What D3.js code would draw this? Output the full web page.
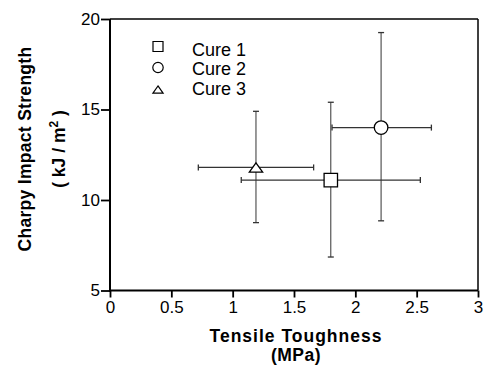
<!DOCTYPE html>
<html>
<head>
<meta charset="utf-8">
<script src="https://cdn.jsdelivr.net/npm/d3@7"></script>
<style>
  body { margin: 0; background: #fff; }
  text { font-family: "Liberation Sans", Arial, sans-serif; fill: #000; }
</style>
</head>
<body>
<svg id="chart" width="484" height="385"></svg>
<script>
'use strict';

// series: x = tensile toughness, y = impact strength
const cures = ['Cure 1', 'Cure 2', 'Cure 3'];
const symbols = ['square', 'circle', 'triangle'];
const xMean = [1.80, 2.21, 1.19];
const xLow = [1.07, 1.81, 0.72];
const xHigh = [2.53, 2.62, 1.66];
const yMean = [11.1, 14.0, 11.8];
const yLow = [6.85, 8.85, 8.75];
const yHigh = [15.4, 19.25, 14.9];

const xTicks = [0, 0.5, 1, 1.5, 2, 2.5, 3];
const yTicks = [5, 10, 15, 20];

const data = cures.map((c, i) => ({
  name: c, sym: symbols[i],
  x: xMean[i], x0: xLow[i], x1: xHigh[i],
  y: yMean[i], y0: yLow[i], y1: yHigh[i],
}));

// plot box
const L = 110, R = 478, T = 19, B = 290.5;
const svg = d3.select('#chart');

const x = d3.scaleLinear().domain([0, 3]).range([L, R]);
const y = d3.scaleLinear().domain([5, 20]).range([B, T]);

// frame: top and right thinner
svg.append('line').attr('x1', L).attr('x2', R).attr('y1', T).attr('y2', T)
  .attr('stroke', '#000').attr('stroke-width', 1.5);
svg.append('line').attr('x1', R).attr('x2', R).attr('y1', T).attr('y2', B)
  .attr('stroke', '#000').attr('stroke-width', 1.5);

// x axis, ticks pointing down
const gx = svg.append('g').attr('transform', `translate(0,${B})`)
  .call(d3.axisBottom(x).tickValues(xTicks).tickSize(7).tickPadding(3)
    .tickFormat(d3.format('')));
gx.selectAll('.tick line').attr('stroke-width', 1.8);
gx.selectAll('.tick text').style('font-size', '17px')
  .style('font-family', '"Liberation Sans", Arial, sans-serif');

// y axis, ticks pointing left
const gy = svg.append('g').attr('transform', `translate(${L},0)`)
  .call(d3.axisLeft(y).tickValues(yTicks).tickSize(9).tickPadding(1));
gy.selectAll('.tick line').attr('stroke-width', 1.8);
gy.selectAll('.tick text').style('font-size', '17px')
  .style('font-family', '"Liberation Sans", Arial, sans-serif');
svg.selectAll('.domain').remove();
gx.append('line').attr('x1', L - 1).attr('x2', R).attr('stroke', '#000').attr('stroke-width', 2);
gy.append('line').attr('y1', T).attr('y2', B + 1).attr('stroke', '#000').attr('stroke-width', 2);

// error bars
const cap = 3;
const eb = svg.append('g').attr('stroke', '#333').attr('stroke-width', 1).attr('fill', 'none');
data.forEach(d => {
  const cx = x(d.x), cy = y(d.y);
  eb.append('line').attr('x1', x(d.x0)).attr('x2', x(d.x1)).attr('y1', cy).attr('y2', cy)
    .attr('stroke-width', 1.3);
  eb.append('line').attr('x1', cx).attr('x2', cx).attr('y1', y(d.y0)).attr('y2', y(d.y1));
  [d.x0, d.x1].forEach(v => eb.append('line').attr('x1', x(v)).attr('x2', x(v))
    .attr('y1', cy - cap).attr('y2', cy + cap).attr('stroke-width', 1.3));
  [d.y0, d.y1].forEach(v => eb.append('line').attr('y1', y(v)).attr('y2', y(v))
    .attr('x1', cx - cap).attr('x2', cx + cap).attr('stroke-width', 1.3));
});

// flat triangle, wider than tall like the original
const flatTriangle = {
  draw(ctx, size) {
    const w = Math.sqrt(size * 2 / 0.7);
    const h = w * 0.7;
    ctx.moveTo(0, -h / 2);
    ctx.lineTo(w / 2, h / 2);
    ctx.lineTo(-w / 2, h / 2);
    ctx.closePath();
  },
};

// markers
const shape = { square: d3.symbolSquare, circle: d3.symbolCircle, triangle: flatTriangle };
const size = { square: 180, circle: 145, triangle: 62 };
svg.selectAll('path.pt')
  .data(data)
  .join('path')
  .attr('class', 'pt')
  .attr('transform', d => `translate(${x(d.x)},${y(d.y)})`)
  .attr('d', d => d3.symbol(shape[d.sym], size[d.sym])())
  .attr('fill', '#fff').attr('stroke', '#000').attr('stroke-width', 1.3);

// legend
const lg = svg.append('g');
data.forEach((d, i) => {
  const ly = 46.5 + i * 21;
  const sz = { square: 100, circle: 85, triangle: 36 }[d.sym];
  lg.append('path')
    .attr('transform', `translate(158,${ly + (d.sym === 'triangle' ? 1 : 0)})`)
    .attr('d', d3.symbol(shape[d.sym], sz)())
    .attr('fill', 'none').attr('stroke', '#000').attr('stroke-width', 1.2);
  lg.append('text').attr('x', 192).attr('y', 55.5 + i * 19.8)
    .style('font-size', '18px').text(d.name);
});

// axis titles
svg.append('text').attr('x', 296).attr('y', 342).attr('text-anchor', 'middle')
  .style('font-size', '17.5px').style('font-weight', 'bold').style('letter-spacing', '1px')
  .text('Tensile Toughness');
svg.append('text').attr('x', 296).attr('y', 361).attr('text-anchor', 'middle')
  .style('font-size', '17.5px').style('font-weight', 'bold').style('letter-spacing', '0.5px')
  .text('(MPa)');

const yt = svg.append('g').attr('transform', 'translate(0,149) rotate(-90)');
yt.append('text').attr('x', 0).attr('y', 31).attr('text-anchor', 'middle')
  .style('font-size', '17.5px').style('font-weight', 'bold').style('letter-spacing', '0.3px')
  .text('Charpy Impact Strength');
const t2 = yt.append('text').attr('x', 0).attr('y', 65).attr('text-anchor', 'middle')
  .style('font-size', '17.5px').style('font-weight', 'bold');
t2.append('tspan').text('( kJ / m');
t2.append('tspan').attr('dy', -7).style('font-size', '12px').text('2');
t2.append('tspan').attr('dy', 7).text(' )');
</script>
</body>
</html>
